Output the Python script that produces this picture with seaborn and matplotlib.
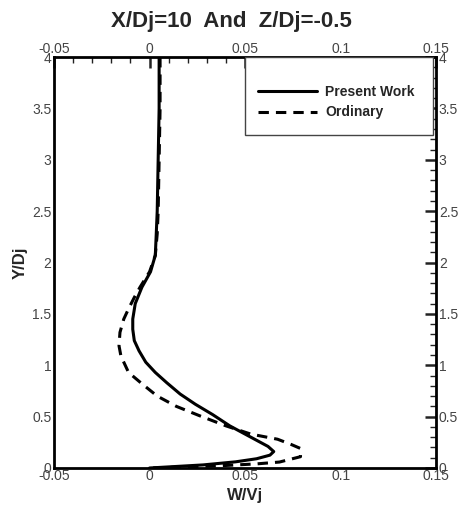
import numpy as np
import pandas as pd
import matplotlib
matplotlib.use('Agg')
import matplotlib.pyplot as plt
from matplotlib.ticker import MultipleLocator
from matplotlib.patches import Rectangle
import seaborn as sns

# profile data (Y/Dj vs W/Vj)
y_present = [4.0, 3.5, 3.0, 2.5, 2.28, 2.07, 1.91, 1.76, 1.6, 1.45, 1.35, 1.24, 1.14, 1.03, 0.93,
             0.83, 0.72, 0.62, 0.52, 0.41, 0.31, 0.26, 0.21, 0.16, 0.125, 0.09, 0.06, 0.03, 0.0]
w_present = [0.005, 0.005, 0.0045, 0.004, 0.0035, 0.003, 0.0005, -0.004, -0.0075, -0.0088,
             -0.0088, -0.008, -0.0055, -0.002, 0.003, 0.009, 0.016, 0.024, 0.033, 0.042,
             0.052, 0.057, 0.062, 0.065, 0.063, 0.056, 0.045, 0.028, 0.0]

y_ordinary = [4.0, 3.5, 3.0, 2.5, 2.28, 2.07, 1.91, 1.76, 1.66, 1.55, 1.45, 1.32, 1.19, 1.09, 0.93,
              0.82, 0.7, 0.6, 0.51, 0.41, 0.33, 0.28, 0.23, 0.19, 0.11, 0.058, 0.04, 0.02, 0.0]
w_ordinary = [0.0055, 0.0055, 0.005, 0.0045, 0.004, 0.003, 0.0, -0.005, -0.008, -0.011,
              -0.0135, -0.0155, -0.016, -0.015, -0.011, -0.004, 0.004, 0.014, 0.026, 0.040,
              0.053, 0.067, 0.074, 0.079, 0.079, 0.068, 0.056, 0.035, 0.0]

xticks = [-0.05, 0, 0.05, 0.1, 0.15]
xticklabels = ['-0.05', '0', '0.05', '0.1', '0.15']
yticks = [0, 0.5, 1, 1.5, 2, 2.5, 3, 3.5, 4]
yticklabels = ['0', '0.5', '1', '1.5', '2', '2.5', '3', '3.5', '4']

sns.set_style('white')
plt.rcParams['font.family'] = ['Liberation Sans', 'DejaVu Sans']

fig = plt.figure(figsize=(4.62, 5.14), dpi=100)
ax = fig.add_axes([0.117, 0.0895, 0.827, 0.7995])

df1 = pd.DataFrame({'w': w_present, 'y': y_present})
df2 = pd.DataFrame({'w': w_ordinary, 'y': y_ordinary})
sns.lineplot(data=df1, x='w', y='y', sort=False, estimator=None, color='black',
             linewidth=2.2, ax=ax, label='Present Work')
sns.lineplot(data=df2, x='w', y='y', sort=False, estimator=None, color='black',
             linewidth=2.2, ax=ax, label='Ordinary', dashes=False)
ax.lines[1].set_linestyle((0, (3.4, 2.3)))

ax.set_xlim(-0.05, 0.15)
ax.set_ylim(0, 4)
ax.set_xticks(xticks)
ax.set_xticklabels(xticklabels)
ax.set_yticks(yticks)
ax.set_yticklabels(yticklabels)
ax.xaxis.set_minor_locator(MultipleLocator(0.01))
ax.yaxis.set_minor_locator(MultipleLocator(0.1))
ax.tick_params(which='both', direction='in', top=True, right=True, labeltop=True,
               labelright=True, labelsize=10, labelcolor='#444444', color='#222222')
ax.tick_params(which='major', length=8, width=1.8)
ax.tick_params(which='minor', length=4, width=1)
ax.tick_params(axis='x', pad=1)
ax.tick_params(axis='y', pad=2)
for s in ax.spines.values():
    s.set_linewidth(2)
    s.set_color('black')

ax.set_xlabel('W/Vj', fontsize=12, fontweight='bold', labelpad=3)
ax.set_ylabel('Y/Dj', fontsize=12, fontweight='bold', labelpad=3)

# legend box
ax.add_patch(Rectangle((0.5, 0.81), 0.493, 0.19, transform=ax.transAxes,
                       facecolor='white', edgecolor='#444444', linewidth=1, zorder=3))
leg = ax.legend(loc='upper left', bbox_to_anchor=(0.52, 0.945), frameon=False,
                handlelength=4.2, handletextpad=0.6, labelspacing=0.45,
                borderaxespad=0, prop={'weight': 'bold', 'size': 10})
leg.set_zorder(4)

fig.text(0.5, 1 - 22 / 514, 'X/Dj=10  And  Z/Dj=-0.5', ha='center', va='center',
         fontsize=16, fontweight='bold')

fig.savefig('out.png', dpi=100)
